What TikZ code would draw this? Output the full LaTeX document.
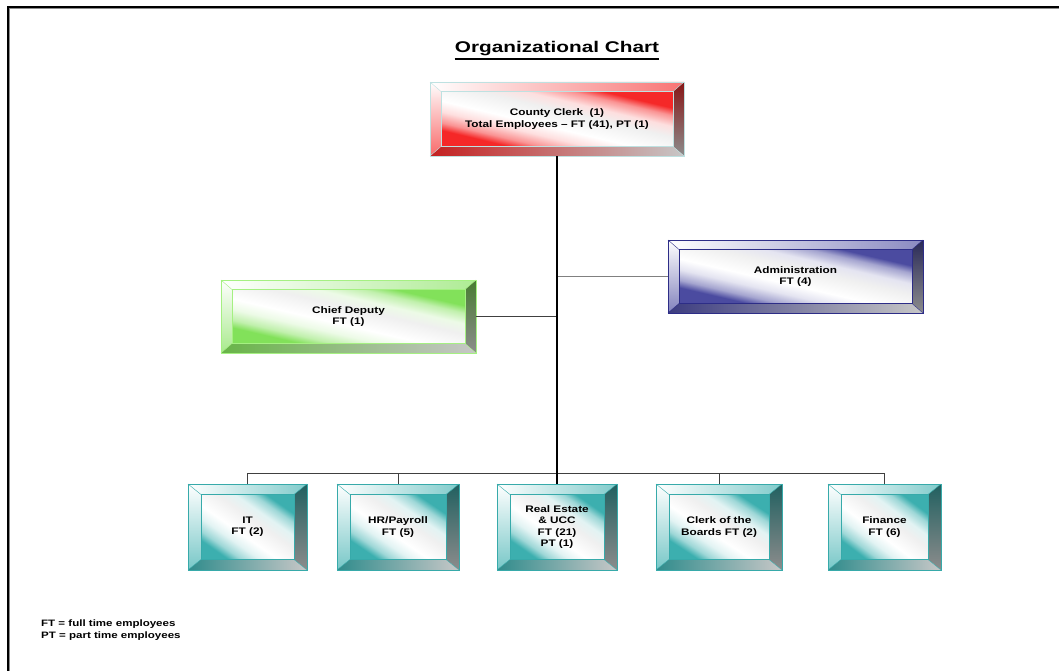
\documentclass[tikz,border=0pt]{standalone}
\usepackage{fontspec}
\setmainfont{Liberation Sans}[FakeStretch=1.24]
\newfontfamily\titlefont{Liberation Sans}[FakeStretch=1.34]
\usetikzlibrary{calc}
\pgfdeclarelayer{background}
\pgfsetlayers{background,main}
\definecolor{cred}{RGB}{245,40,40}
\definecolor{ored}{RGB}{190,225,225}
\definecolor{cgreen}{RGB}{130,225,90}
\definecolor{ogreen}{RGB}{165,240,130}
\definecolor{cblue}{RGB}{75,75,160}
\definecolor{oblue}{RGB}{45,45,135}
\definecolor{cteal}{RGB}{60,175,175}
\definecolor{oteal}{RGB}{55,170,170}
\newcommand\declareface[1]{%
  \pgfdeclareverticalshading{face#1}{100bp}{color(0bp)=(#1); color(25bp)=(#1);
    color(30bp)=(#1!50); color(37bp)=(#1!15); color(44bp)=(white); color(56bp)=(white!94!black);
    color(63bp)=(#1!15); color(70bp)=(#1!50); color(75bp)=(#1); color(100bp)=(#1)}}
\declareface{cred}\declareface{cgreen}\declareface{cblue}\declareface{cteal}
\tikzset{
  boxtext/.style={inner sep=0pt, align=center, font=\fontsize{9.5}{11.4}\selectfont\bfseries},
  trunk/.style={line width=1.2pt, black},
  conn/.style={line width=0.9pt, black!75},
  gconn/.style={line width=1pt, black!50},
}
% #1 name, #2 x1, #3 y1, #4 x2, #5 y2, #6 colour, #7 outline, #8 text
\newcommand\bevelbox[8]{%
  \pgfmathsetmacro\bcx{(#2+#4)/2}%
  \pgfmathsetmacro\bcy{(#3+#5)/2}%
  \pgfmathsetmacro\bw{#4-#2}%
  \pgfmathsetmacro\bh{#5-#3}%
  \pgfmathsetmacro\fw{#4-#2-2*\bx}%
  \pgfmathsetmacro\fh{#5-#3-2*\by}%
  \pgfmathsetmacro\fs{\fw/\fh}%
  \node[boxtext, draw=#7, line width=0.7pt, minimum width=\bw pt, minimum height=\bh pt] (#1) at (\bcx,\bcy) {#8};
  \begin{pgfonlayer}{background}
    \begin{scope}[transform canvas={shift={(#2+\bx,#3+\by)}, xscale=\fs}]
      \shade[shading=face#6, shading angle=-45] (0,0) rectangle (\fh,\fh);
    \end{scope}
    \shade[left color=white, right color=#6!65] (#2,#3) -- (#4,#3) -- (#4-\bx,#3+\by) -- (#2+\bx,#3+\by) -- cycle;
    \shade[top color=white, bottom color=#6!70] (#2,#3) -- (#2+\bx,#3+\by) -- (#2+\bx,#5-\by) -- (#2,#5) -- cycle;
    \shade[top color=#6!55!black, bottom color=black!45] (#4,#3) -- (#4,#5) -- (#4-\bx,#5-\by) -- (#4-\bx,#3+\by) -- cycle;
    \shade[left color=#6!80!black, right color=black!22] (#2,#5) -- (#4,#5) -- (#4-\bx,#5-\by) -- (#2+\bx,#5-\by) -- cycle;
    \draw[#7, line width=0.5pt] (#2+\bx,#3+\by) rectangle (#4-\bx,#5-\by);
    \draw[#7, line width=0.4pt] (#2,#3) -- (#2+\bx,#3+\by) (#4,#3) -- (#4-\bx,#3+\by)
      (#2,#5) -- (#2+\bx,#5-\by) (#4,#5) -- (#4-\bx,#5-\by);
  \end{pgfonlayer}
}
\begin{document}
\begin{tikzpicture}[x=1pt,y=-1pt]
\useasboundingbox (0,0) rectangle (1059,671);
% frame
\draw[line width=1pt, black!45] (9.6,671) -- (9.6,8.6) -- (1059,8.6);
\draw[line width=1.2pt, black] (8,671) -- (8,7) -- (1059,7);
% title
\node[inner sep=0pt, anchor=base, font=\titlefont\fontsize{15.5}{18}\selectfont\bfseries] (title) at (557,53) {Organizational Chart};
\draw[line width=1.1pt] ([yshift=-6pt]title.base west) -- ([yshift=-6pt]title.base east);
% boxes
\def\bx{11}\def\by{9.5}
\bevelbox{clerk}{430}{82}{684}{156}{cred}{ored}{County Clerk\ \ (1)\\Total Employees -- FT (41), PT (1)}
\bevelbox{chief}{221}{280}{476}{353}{cgreen}{ogreen}{Chief Deputy\\FT (1)}
\bevelbox{admin}{668}{240}{923}{313}{cblue}{oblue}{Administration\\FT (4)}
\def\bx{13}\def\by{10.5}
\bevelbox{it}{188}{484}{307}{570}{cteal}{oteal}{IT\\FT (2)}
\bevelbox{hr}{337}{484}{459}{570}{cteal}{oteal}{HR/Payroll\\FT (5)}
\bevelbox{re}{497}{484}{617}{570}{cteal}{oteal}{Real Estate\\\& UCC\\FT (21)\\PT (1)}
\bevelbox{cob}{656}{484}{782}{570}{cteal}{oteal}{Clerk of the\\Boards FT (2)}
\bevelbox{fin}{828}{484}{941}{570}{cteal}{oteal}{Finance\\FT (6)}
% connectors
\coordinate (busL) at (247.5,473);
\coordinate (busR) at (884.5,473);
\draw[conn] (it.north) -- (busL) -- (busR) -- (fin.north);
\draw[conn] (hr.north) -- (hr.north |- busL);
\draw[conn] (cob.north) -- (cob.north |- busL);
\draw[gconn] (admin.west) -- (admin.west -| clerk.south);
\draw[conn] (chief.east) -- (chief.east -| clerk.south);
\draw[trunk] (clerk.south) -- (clerk.south |- re.north);
% footnote
\node[inner sep=0pt, anchor=north west, align=left, font=\fontsize{9.3}{11.6}\selectfont\bfseries] (note) at (41,620) {FT = full time employees\\PT = part time employees};
\end{tikzpicture}
\end{document}
